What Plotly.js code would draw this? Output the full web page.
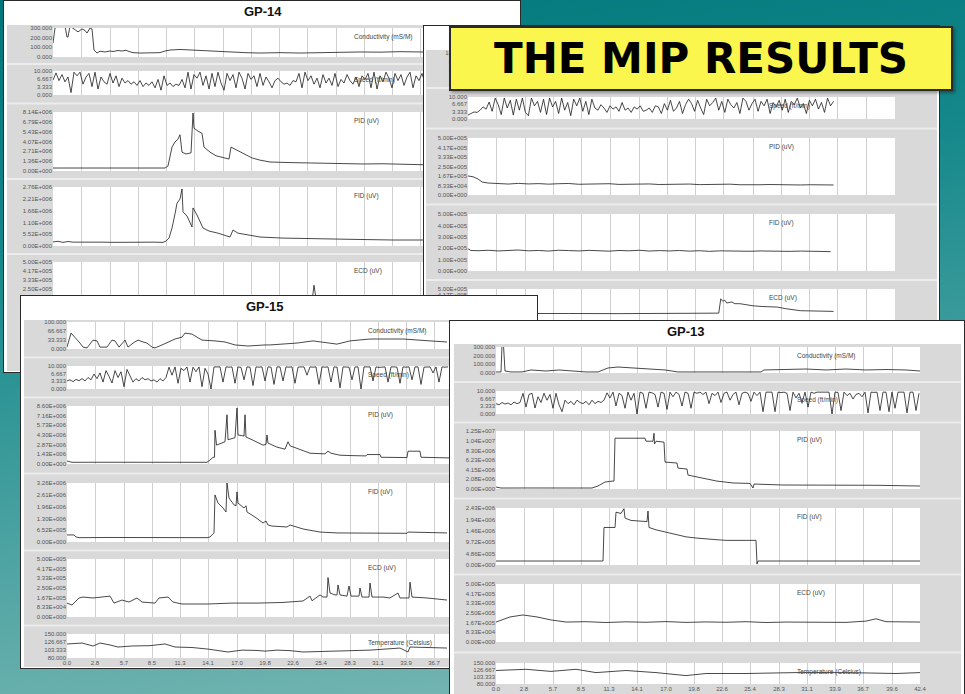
<!DOCTYPE html>
<html><head><meta charset="utf-8">
<script src="https://cdn.plot.ly/plotly-3.0.1.min.js"></script>
<style>
html,body{margin:0;padding:0;width:965px;height:694px;overflow:hidden;}
body{position:relative;background:linear-gradient(172deg,#00777b 0%,#13878a 30%,#4aa2a1 65%,#7fbab6 100%);}
.panel{position:absolute;border:1px solid #2a2a2a;background:#fff;overflow:hidden;}
#ybox{position:absolute;left:449px;top:26px;width:500px;height:61px;border:2px solid #2b2b2b;box-shadow:2px 2px 3px rgba(0,0,0,.35);background:#faf64e;}
</style></head><body>
<script>
// ---------- shared tick labels ----------
const DEPTH_TICKS=['0.0','2.8','5.7','8.5','11.3','14.1','17.0','19.8','22.6','25.4','28.3','31.1','33.9','36.7','39.6','42.4'];
const T_COND300=['300.000','200.000','100.000','0.000'];
const T_COND100=['100.000','66.667','33.333','0.000'];
const T_SPEED=['10.000','6.667','3.333','0.000'];
const T_TEMP=['150.000','126.667','103.333','80.000'];
const T_ECD=['5.00E+005','4.17E+005','3.33E+005','2.50E+005','1.67E+005','8.33E+004','0.00E+000'];
const T_GP14_PID=['8.14E+006','6.79E+006','5.43E+006','4.07E+006','2.71E+006','1.36E+006','0.00E+000'];
const T_GP14_FID=['2.76E+006','2.21E+006','1.66E+006','1.10E+006','5.52E+005','0.00E+000'];
const T_B_PID=['5.00E+005','4.17E+005','3.33E+005','2.50E+005','1.67E+005','8.33E+004','0.00E+000'];
const T_B_FID=['5.00E+005','4.00E+005','3.00E+005','2.00E+005','1.00E+005','0.00E+000'];
const T_GP15_PID=['8.60E+006','7.16E+006','5.73E+006','4.30E+006','2.87E+006','1.43E+006','0.00E+000'];
const T_GP15_FID=['3.26E+006','2.61E+006','1.96E+006','1.30E+006','6.52E+005','0.00E+000'];
const T_GP13_PID=['1.25E+007','1.04E+007','8.30E+006','6.23E+006','4.15E+006','2.08E+006','0.00E+000'];
const T_GP13_FID=['2.43E+006','1.94E+006','1.46E+006','9.72E+005','4.86E+005','0.00E+000'];

// ---------- GP-14 ----------
const gp14_cond_depth=[0,0.2,0.4,1.2,1.4,1.5,1.7,2.2,2.5,2.9,3.2,3.4,3.7,3.9,4.1,4.4,4.7,5.2,5.7,6.0,6.5,6.9,7.3,7.6,8.0,8.7,9.7,10.7,11.2,11.7,12.7,13.7,14.7,16.2,17.7,19.2,20.7,22.7,24.7,26.7,27.7,29.2,30.7,32.7,34.7,36.7,38.7];
const gp14_cond=[145,300,320,320,207,207,320,280,260,290,275,248,300,290,72,41,60,52,62,57,67,62,70,57,45,41,41,45,62,72,78,72,67,57,52,45,41,45,41,45,52,48,52,50,55,52,52];
const gp14_speed=[6.2,9.2,6.0,8.5,5.5,7.5,1.0,9.5,8.0,9.5,4.5,7.5,9.0,3.5,9.5,2.5,7.5,5.5,4.5,9.0,5.0,8.0,3.5,7.0,5.0,6.0,4.5,5.5,4.0,6.0,3.5,5.0,4.0,5.5,3.0,6.5,2.0,8.0,4.0,5.0,3.5,4.5,4.0,6.5,3.0,9.5,2.5,8.5,7.0,9.5,4.0,8.0,2.5,9.0,3.5,9.5,5.0,2.0,9.0,6.0,8.5,3.0,9.5,7.0,2.5,9.0,6.5,8.0,3.5,9.0,4.0,7.5,5.5,3.0,6.0,7.0,5.5,4.5,5.0,4.0,6.0,5.5,9.0,3.0,9.5,6.0,8.0,4.5,7.0,3.0,8.5,5.0,7.0,4.0,9.0,3.5,6.5,5.0,8.5,6.0,4.5,7.5,3.5,8.0,6.5,9.0,3.0,9.5,2.5,8.0,5.5,9.5,7.0,3.0,9.0,6.0,8.5,4.0,7.5,9.5,3.0,8.0,6.0,9.0,5.0];
const gp14_pid_depth=[0,2,4,6,8,10,11.2,11.5,11.9,12.2,12.5,12.7,12.9,13.3,13.8,14.0,14.1,14.5,14.9,15.1,15.7,16.3,17.0,17.6,17.8,18.2,18.8,19.4,19.9,20.7,21.7,23.4,25.7,27.4,29.0,31.0,33.0,35.0,36.7,38.0];
const gp14_pid=[0.41e6,0.40e6,0.42e6,0.40e6,0.41e6,0.40e6,0.41e6,0.69e6,3.3e6,4.0e6,4.4e6,5.0e6,2.6e6,2.35e6,2.5e6,8.0e6,5.9e6,5.5e6,5.2e6,3.3e6,2.6e6,2.1e6,1.8e6,1.65e6,3.3e6,3.0e6,2.6e6,2.1e6,1.8e6,1.5e6,1.24e6,1.17e6,1.1e6,1.05e6,1.1e6,0.97e6,1.0e6,0.9e6,0.83e6,0.83e6];
const gp14_fid_depth=[0,0.5,1.0,1.5,2.0,3,4,5,6,7,8,9,10,11,11.3,11.6,11.9,12.2,12.4,12.7,12.9,13.0,13.4,13.9,14.0,14.4,15.0,15.6,16.5,17.7,18.0,18.5,19.5,20.7,23,26,30,34,38];
const gp14_fid=[0.19e6,0.22e6,0.17e6,0.21e6,0.18e6,0.19e6,0.17e6,0.18e6,0.17e6,0.18e6,0.17e6,0.17e6,0.18e6,0.17e6,0.23e6,0.37e6,0.84e6,1.5e6,2.0e6,2.2e6,2.67e6,1.6e6,1.4e6,0.89e6,1.78e6,1.45e6,0.84e6,0.7e6,0.6e6,0.42e6,0.75e6,0.6e6,0.51e6,0.42e6,0.37e6,0.33e6,0.31e6,0.28e6,0.28e6];
const gp14_ecd_depth=[0,5,10,15,20,25.9,26.1,26.3,30,34,38];
const gp14_ecd=[1.3e5,1.25e5,1.3e5,1.28e5,1.3e5,1.35e5,2.85e5,1.6e5,1.4e5,1.35e5,1.3e5];

// ---------- upper-right log (title hidden by banner) ----------
const b_cond_depth=[0,5,10,15,20,25,30,36];
const b_cond=[20,15,18,12,14,16,12,14];
const b_speed=[1.8,2.5,3.2,3.0,4.0,5.5,4.5,7.7,3.5,9.5,6.5,2.0,9.5,5.0,8.5,1.8,9.0,4.0,9.5,3.0,1.5,9.5,6.0,8.0,3.0,9.0,2.0,9.5,5.5,8.0,2.5,9.5,4.0,7.5,1.5,9.0,6.0,9.5,3.5,8.0,2.0,9.0,5.0,4.0,6.5,5.0,3.0,6.0,4.5,5.5,3.5,7.5,4.0,5.0,3.0,5.5,4.5,6.0,3.5,4.0,5.0,3.0,6.0,5.5,2.5,7.0,4.0,8.5,3.5,5.0,8.0,2.5,6.5,9.0,7.0,3.5,8.5,5.0,2.0,9.0,6.0,7.5,9.5,4.0,8.0,3.0,9.0,6.5,5.0,7.5,2.5,9.5,8.0,4.0,7.0,9.0,3.5,8.0,6.0,9.0,2.5,7.5,5.5,8.5,4.0,9.0,3.0,8.0,6.5,9.5,5.0,7.0,2.5,8.5,6.0,9.0,4.5,7.5,3.0,9.5,6.0,8.0];
const b_pid_depth=[0,0.5,1.0,1.4,2,3,4,5,6,7,8,9,10,11,12,13,14,15,16,17,18,19,20,21,22,23,24,25,26,27,28,29,30,31,32,33,34,35,36.3];
const b_pid=[1.67e5,1.6e5,1.4e5,1.14e5,1.05e5,1.0e5,0.96e5,1.02e5,0.97e5,1.0e5,0.95e5,0.99e5,1.01e5,0.94e5,0.97e5,0.95e5,0.99e5,0.93e5,0.96e5,0.94e5,0.97e5,0.92e5,0.95e5,0.93e5,0.96e5,0.91e5,0.94e5,0.92e5,0.95e5,0.9e5,0.93e5,0.9e5,0.92e5,0.89e5,0.91e5,0.88e5,0.9e5,0.87e5,0.88e5];
const b_fid_depth=[0,0.3,1,2,3,4,5,6,7,8,9,10,11,12,13,14,15,16,17,18,19,20,21,22,23,24,25,26,27,28,29,30,31,32,33,34,35,36];
const b_fid=[1.95e5,1.8e5,1.78e5,1.82e5,1.76e5,1.8e5,1.84e5,1.77e5,1.8e5,1.75e5,1.82e5,1.79e5,1.76e5,1.81e5,1.78e5,1.74e5,1.8e5,1.77e5,1.82e5,1.75e5,1.79e5,1.76e5,1.8e5,1.74e5,1.78e5,1.72e5,1.77e5,1.75e5,1.79e5,1.73e5,1.76e5,1.74e5,1.78e5,1.72e5,1.75e5,1.73e5,1.76e5,1.7e5];
const b_ecd_depth=[0,5,10,15,20,24.9,25.1,25.3,25.5,25.7,26.2,26.5,27.0,27.7,28.3,29.2,29.7,30.7,31.5,33,36.3];
const b_ecd=[1.5e5,1.45e5,1.5e5,1.48e5,1.5e5,1.55e5,3.6e5,3.25e5,3.4e5,3.0e5,3.15e5,2.9e5,2.9e5,2.7e5,2.6e5,2.5e5,2.5e5,2.42e5,2.2e5,1.9e5,1.8e5];

// ---------- GP-15 ----------
const gp15_cond_depth=[0,0.4,1.3,1.6,2.0,2.6,3.0,3.3,4.0,4.5,4.8,5.2,5.8,6.1,6.6,7.1,7.6,8.0,8.5,8.8,9.5,10.1,10.8,11.5,11.8,12.5,13.0,13.5,14.8,15.8,16.8,18.1,19.8,20.3,23.0,24.6,27.0,28.3,30.3,33.6,36.3,38.0];
const gp15_cond=[7,59,22,7,4,33,30,7,7,33,30,7,33,7,22,33,26,22,7,4,15,26,37,44,59,55,44,33,30,26,15,11,15,15,22,30,18,30,37,37,30,26];
const gp15_speed=[3.5,4.0,3.2,4.2,3.6,4.5,3.5,5.0,4.0,6.5,4.5,7.0,3.0,8.0,5.5,2.6,8.0,5.0,7.5,1.0,8.5,6.0,3.0,4.5,3.5,5.0,4.0,4.5,3.5,4.0,3.0,4.5,3.5,5.0,9.5,6.0,9.6,2.5,9.0,8.0,9.6,3.0,9.5,7.5,9.6,1.0,9.0,6.5,0.0,9.6,9.5,9.6,3.0,9.6,9.5,9.6,2.5,9.6,9.4,4.0,9.6,9.5,1.5,9.6,9.5,9.6,3.5,9.6,9.5,2.0,9.6,9.6,3.5,9.6,9.5,9.6,2.5,9.5,9.6,9.6,6.0,9.6,9.5,9.6,2.0,9.6,9.5,9.6,3.0,9.6,9.5,0.5,9.6,9.6,9.5,4.0,9.6,9.6,0.0,9.6,9.5,9.6,3.5,9.6,9.4,9.6,9.6,3.0,9.6,9.6,9.5,2.5,9.6,9.5,9.6,4.0,9.6,9.6,2.0,9.5,9.6,9.6,7.0,9.6,3.0,9.6,9.5,9.6];
const gp15_pid_depth=[0,0.3,0.5,3,6,9,12,14.0,14.3,14.6,14.75,14.8,14.95,15.8,16.0,16.1,16.8,17.0,17.1,17.7,17.8,17.9,18.5,19.1,19.6,19.9,20.0,20.1,20.5,21.0,21.8,22.1,22.3,23.3,24.3,25.8,26.1,26.4,27.3,28.3,29.9,30.0,31.3,31.4,34.0,34.1,35.3,35.4,37.0,38.3];
const gp15_pid=[0.44e6,0.3e6,0.25e6,0.26e6,0.24e6,0.25e6,0.26e6,0.25e6,0.59e6,1.0e6,1.0e6,5.0e6,2.8e6,3.3e6,7.3e6,3.6e6,3.9e6,8.3e6,4.3e6,4.15e6,7.3e6,4.0e6,3.6e6,3.1e6,2.8e6,2.9e6,4.3e6,3.1e6,2.8e6,2.5e6,2.2e6,3.3e6,2.7e6,2.2e6,1.6e6,1.5e6,1.9e6,1.6e6,1.3e6,1.25e6,1.2e6,1.4e6,1.4e6,1.0e6,0.95e6,1.9e6,1.9e6,1.0e6,0.9e6,0.9e6];
const gp15_fid_depth=[0,0.7,0.9,1.2,4,7,10,14.0,14.3,14.7,14.8,15.1,15.6,15.9,16.0,16.2,16.7,16.9,17.0,17.1,17.7,17.9,18.0,18.8,19.6,19.9,20.1,20.5,22.0,22.3,23.6,25.3,27.0,30.3,34.0,34.1,38.0];
const gp15_fid=[0.39e6,0.39e6,0.28e6,0.24e6,0.25e6,0.24e6,0.24e6,0.24e6,0.28e6,0.5e6,2.6e6,2.15e6,1.88e6,1.66e6,3.26e6,2.43e6,2.05e6,2.0e6,2.77e6,2.15e6,1.88e6,2.0e6,1.66e6,1.38e6,1.05e6,1.16e6,0.94e6,0.88e6,0.83e6,0.94e6,0.72e6,0.55e6,0.5e6,0.5e6,0.48e6,0.55e6,0.5e6];
const gp15_ecd_depth=[0,0.5,1.2,1.6,2.6,3.6,4.3,4.7,5.5,6.2,7.0,7.5,8.8,9.2,10.1,10.6,11.5,14.1,16.5,19.0,21.5,23.6,24.3,24.5,25.0,25.3,25.6,26.0,26.1,26.3,26.8,27.0,27.1,27.3,28.0,28.2,28.4,29.2,29.3,29.5,30.2,30.3,30.5,31.6,32.3,33.1,33.3,34.2,34.3,34.5,36.0,38.0];
const gp15_ecd=[1.2e5,1.03e5,1.64e5,1.72e5,1.64e5,1.72e5,1.8e5,1.2e5,1.46e5,1.29e5,1.64e5,1.29e5,1.2e5,1.64e5,1.72e5,1.29e5,1.12e5,1.12e5,1.2e5,1.2e5,1.25e5,1.38e5,1.8e5,1.4e5,1.72e5,1.9e5,1.72e5,1.72e5,3.4e5,2.07e5,1.9e5,1.9e5,2.76e5,1.9e5,1.8e5,2.67e5,1.8e5,1.8e5,2.5e5,1.72e5,1.72e5,2.93e5,1.72e5,1.72e5,1.64e5,2.07e5,1.64e5,1.64e5,3.0e5,1.72e5,1.64e5,1.46e5];
const gp15_temp_depth=[0,1.5,2.6,3.3,4.3,5.1,6.5,8.3,9.8,10.8,12.5,14.1,16.1,17.5,19.0,19.8,21.0,22.3,23.6,27.0,30.3,33.3,34.1,34.3,38.0];
const gp15_temp=[120.8,123.7,115,123.7,118,112,115,116,121,112,110.6,106,97.5,103,102,100,103,101.5,97.5,100,103,109,97.5,112,109];

// ---------- GP-13 ----------
const gp13_cond_depth=[0,0.5,0.6,0.75,0.9,1.5,2.6,3.5,5.0,6.3,7.7,9.0,10.2,11.2,12.2,14.2,16.2,16.9,18.2,20.9,23.5,26.5,26.8,29,31,33,35,37,39,41,42.4];
const gp13_cond=[12,12,320,320,23,12,12,35,23,35,23,12,12,58,69,58,46,35,12,12,14,12,35,40,46,35,46,35,40,35,23];
const gp13_speed=[4.5,4.0,5.0,4.3,4.8,4.0,5.2,4.5,5.0,9.0,3.0,8.5,9.0,2.6,7.5,5.0,9.0,6.0,8.5,2.5,9.0,4.0,1.0,6.0,4.5,5.5,4.0,6.0,5.0,4.5,5.5,4.0,6.0,4.5,5.5,5.0,6.0,9.2,7.0,9.5,3.5,9.0,8.0,2.5,9.5,6.0,9.0,0.0,9.5,9.0,2.5,9.5,9.2,8.5,3.0,9.5,9.0,2.0,9.5,7.5,9.5,8.5,3.5,9.5,9.0,2.5,9.5,9.0,9.5,8.5,9.5,4.5,9.0,8.0,9.5,5.0,9.0,9.5,6.0,8.5,9.5,4.0,9.0,9.5,9.0,5.5,9.5,8.0,9.5,1.0,9.5,9.5,9.5,1.0,9.5,9.3,9.5,9.0,1.5,9.5,7.0,9.0,5.0,9.5,3.0,9.5,9.0,9.5,9.5,9.4,9.5,9.5,0.0,9.5,9.4,1.5,9.5,8.0,9.0,6.5,8.5,9.0,7.5,9.5,0.5,9.5,9.4,9.5,1.5,9.5,9.5,1.0,9.5,2.5,9.5,9.4,9.5,0.5,9.5,9.5,1.5,9.0];
const gp13_pid_depth=[0,0.5,3,6,9.6,10.2,10.9,11.6,11.8,11.9,14.9,15.0,15.7,15.8,15.85,16.0,16.8,16.9,18.1,18.2,19.1,19.2,20.6,22.1,23.7,25.4,25.7,25.8,28.7,33.7,38,42.4];
const gp13_pid=[0.43e6,0.21e6,0.22e6,0.21e6,0.21e6,0.64e6,1.5e6,1.7e6,1.7e6,10.95e6,10.95e6,10.3e6,10.3e6,12.0e6,9.7e6,10.3e6,10.1e6,5.8e6,5.6e6,4.5e6,4.3e6,3.0e6,2.4e6,1.7e6,1.3e6,1.2e6,0.21e6,1.07e6,0.86e6,0.86e6,0.8e6,0.64e6];
const gp13_fid_depth=[0,5,10.7,10.8,11.9,12.0,12.5,12.8,12.9,13.5,14.5,15.1,15.2,15.3,16,17,18,19,20,21,22,23,24,25,26.0,26.1,26.2,30,35,42.4];
const gp13_fid=[0.17e6,0.17e6,0.17e6,1.6e6,1.6e6,2.25e6,2.2e6,2.4e6,2.0e6,1.9e6,1.85e6,1.85e6,2.3e6,1.6e6,1.5e6,1.4e6,1.3e6,1.2e6,1.15e6,1.1e6,1.08e6,1.05e6,1.06e6,1.04e6,1.05e6,0.04e6,0.17e6,0.17e6,0.16e6,0.17e6];
const gp13_ecd_depth=[0,1.4,2.7,4.1,5.5,7,9,11,13,15,17,19,21,23,25,27,29,31,33,35,37,38,39,41,42.4];
const gp13_ecd=[1.72e5,2.16e5,2.33e5,2.16e5,1.9e5,1.72e5,1.75e5,1.68e5,1.74e5,1.7e5,1.76e5,1.69e5,1.73e5,1.7e5,1.75e5,1.68e5,1.72e5,1.7e5,1.74e5,1.69e5,1.8e5,2.0e5,1.75e5,1.7e5,1.72e5];
const gp13_temp_depth=[0,3,5.5,8,10,13,16,19,21,25,30,35,40,42.4];
const gp13_temp=[125,129,122,129,118,125,118,108,115,115,118,118,115,118];

// ---------- drawing ----------
const FONT='"Liberation Sans", Arial, sans-serif';
const SPEED_STEP=0.3;
function drawPanel(p){
  const el=document.createElement('div');
  el.className='panel';
  const W=p.width-2,H=p.height-2;
  Object.assign(el.style,{left:p.left+'px',top:p.top+'px',width:W+'px',height:H+'px'});
  document.body.appendChild(el);
  const fx=x=>(x-p.left-1)/W, fy=y=>1-(y-p.top-1)/H;
  const b=p.body;
  const layout={width:W,height:H,margin:{l:0,r:0,t:0,b:0,pad:0},paper_bgcolor:'#ffffff',plot_bgcolor:'rgba(0,0,0,0)',showlegend:false,shapes:[],annotations:[]};
  layout.shapes.push({type:'rect',xref:'paper',yref:'paper',x0:fx(b[0]),x1:fx(b[2]),y0:fy(b[3]),y1:fy(b[1]),fillcolor:'#d9d9d9',line:{width:0},layer:'below'});
  const xmax=p.xLabelMax==null?99:p.xLabelMax;
  const traces=[];
  p.rows.forEach((r,i)=>{
    const n=i===0?'':String(i+1);
    if(i>0){
      const ys=(p.rows[i-1].bottom+r.top)/2;
      layout.shapes.push({type:'line',xref:'paper',yref:'paper',x0:fx(b[0]),x1:fx(b[2]),y0:fy(ys),y1:fy(ys),line:{color:'#ececec',width:2},layer:'below'});
    }
    layout.shapes.push({type:'rect',xref:'paper',yref:'paper',x0:fx(p.plotX[0]),x1:fx(p.plotX[1]),y0:fy(r.bottom),y1:fy(r.top),fillcolor:'#ffffff',line:{width:0},layer:'below'});
    const last=i===p.rows.length-1;
    layout['xaxis'+n]={domain:[fx(p.plotX[0]),fx(p.plotX[1])],range:[0,42.4],anchor:'y'+n,tickmode:'array',
      tickvals:DEPTH_TICKS.map(Number),ticktext:DEPTH_TICKS.map(t=>Number(t)<=xmax?t:''),showgrid:true,gridcolor:'#d0d0d0',gridwidth:1,
      zeroline:false,showline:false,ticks:'',showticklabels:!!(last&&p.showX),tickfont:{family:FONT,size:6,color:'#555'},fixedrange:true};
    const tv=r.ticks.map(parseFloat);
    layout['yaxis'+n]={domain:[fy(r.bottom),fy(r.top)],range:[tv[tv.length-1],tv[0]],anchor:'x'+n,tickmode:'array',
      tickvals:tv,ticktext:r.ticks,showgrid:false,zeroline:false,showline:false,ticks:'',
      tickfont:{family:FONT,size:6,color:'#555'},fixedrange:true};
    const tr={type:'scatter',mode:'lines',xaxis:'x'+n,yaxis:'y'+n,y:r.v,line:{color:'#1a1a1a',width:0.8},hoverinfo:'skip'};
    if(r.d){tr.x=r.d;}else{tr.x0=0;tr.dx=SPEED_STEP;}
    traces.push(tr);
    if(r.label){
      layout.annotations.push({xref:'paper',yref:'paper',x:fx(p.plotX[0]+299),y:fy(r.top+9),xanchor:'left',yanchor:'middle',
        text:r.label,showarrow:false,font:{family:FONT,size:6.5,color:'#444'}});
    }
  });
  if(p.title){
    layout.annotations.push({xref:'paper',yref:'paper',x:fx(p.title[1]),y:fy(p.title[2]),xanchor:'center',yanchor:'middle',
      text:'<b>'+p.title[0]+'</b>',showarrow:false,font:{family:FONT,size:13,color:'#111'}});
  }
  Plotly.newPlot(el,traces,layout,{staticPlot:true,displayModeBar:false});
}

const LBL={c:'Conductivity (mS/M)',s:'Speed (ft/min)',p:'PID (uV)',f:'FID (uV)',e:'ECD (uV)',t:'Temperature (Celsius)'};

// GP-14 (back panel)
drawPanel({left:3,top:0,width:518,height:373,title:['GP-14',263,12],body:[7,25,517,371],plotX:[53,477],showX:false,rows:[
  {top:28,bottom:57,ticks:T_COND300,label:LBL.c,d:gp14_cond_depth,v:gp14_cond},
  {top:71,bottom:95,ticks:T_SPEED,label:LBL.s,v:gp14_speed},
  {top:112,bottom:171,ticks:T_GP14_PID,label:LBL.p,d:gp14_pid_depth,v:gp14_pid},
  {top:187,bottom:246,ticks:T_GP14_FID,label:LBL.f,d:gp14_fid_depth,v:gp14_fid},
  {top:262,bottom:316,ticks:T_ECD,label:LBL.e,d:gp14_ecd_depth,v:gp14_ecd}
]});
// upper-right panel (title hidden by banner)
drawPanel({left:423,top:25,width:517,height:300,title:null,body:[426,50,937,325],plotX:[468,895],showX:false,rows:[
  {top:53,bottom:79,ticks:T_COND100,label:'',d:b_cond_depth,v:b_cond},
  {top:97,bottom:119,ticks:T_SPEED,label:LBL.s,v:b_speed},
  {top:138,bottom:195,ticks:T_B_PID,label:LBL.p,d:b_pid_depth,v:b_pid},
  {top:214,bottom:271,ticks:T_B_FID,label:LBL.f,d:b_fid_depth,v:b_fid},
  {top:289,bottom:346,ticks:T_ECD,label:LBL.e,d:b_ecd_depth,v:b_ecd}
]});
// banner
(function(){
  const yb=document.createElement('div');yb.id='ybox';document.body.appendChild(yb);
  Plotly.newPlot(yb,[],{width:500,height:61,margin:{l:0,r:0,t:0,b:0},paper_bgcolor:'#faf64e',plot_bgcolor:'#faf64e',
    xaxis:{visible:false},yaxis:{visible:false},
    annotations:[{xref:'paper',yref:'paper',x:0.5,y:0.5,xanchor:'center',yanchor:'middle',text:'<b>THE MIP RESULTS</b>',showarrow:false,
      font:{family:'"DejaVu Sans", sans-serif',size:42,color:'#000'}}]},{staticPlot:true,displayModeBar:false});
})();
// GP-15
drawPanel({left:20,top:295,width:518,height:374,title:['GP-15',265,307],body:[24,320,535,667],plotX:[67,491],showX:true,xLabelMax:37,rows:[
  {top:322,bottom:349,ticks:T_COND100,label:LBL.c,d:gp15_cond_depth,v:gp15_cond},
  {top:366,bottom:389,ticks:T_SPEED,label:LBL.s,v:gp15_speed},
  {top:406,bottom:464,ticks:T_GP15_PID,label:LBL.p,d:gp15_pid_depth,v:gp15_pid},
  {top:483,bottom:542,ticks:T_GP15_FID,label:LBL.f,d:gp15_fid_depth,v:gp15_fid},
  {top:559,bottom:617,ticks:T_ECD,label:LBL.e,d:gp15_ecd_depth,v:gp15_ecd},
  {top:634,bottom:658,ticks:T_TEMP,label:LBL.t,d:gp15_temp_depth,v:gp15_temp}
]});
// GP-13
drawPanel({left:449,top:320,width:516,height:380,title:['GP-13',686,331],body:[454,344,961,700],plotX:[496,920],showX:true,rows:[
  {top:347,bottom:373,ticks:T_COND300,label:LBL.c,d:gp13_cond_depth,v:gp13_cond},
  {top:391,bottom:414,ticks:T_SPEED,label:LBL.s,v:gp13_speed},
  {top:431,bottom:489,ticks:T_GP13_PID,label:LBL.p,d:gp13_pid_depth,v:gp13_pid},
  {top:508,bottom:565,ticks:T_GP13_FID,label:LBL.f,d:gp13_fid_depth,v:gp13_fid},
  {top:584,bottom:642,ticks:T_ECD,label:LBL.e,d:gp13_ecd_depth,v:gp13_ecd},
  {top:663,bottom:684,ticks:T_TEMP,label:LBL.t,d:gp13_temp_depth,v:gp13_temp}
]});
</script>
</body></html>
